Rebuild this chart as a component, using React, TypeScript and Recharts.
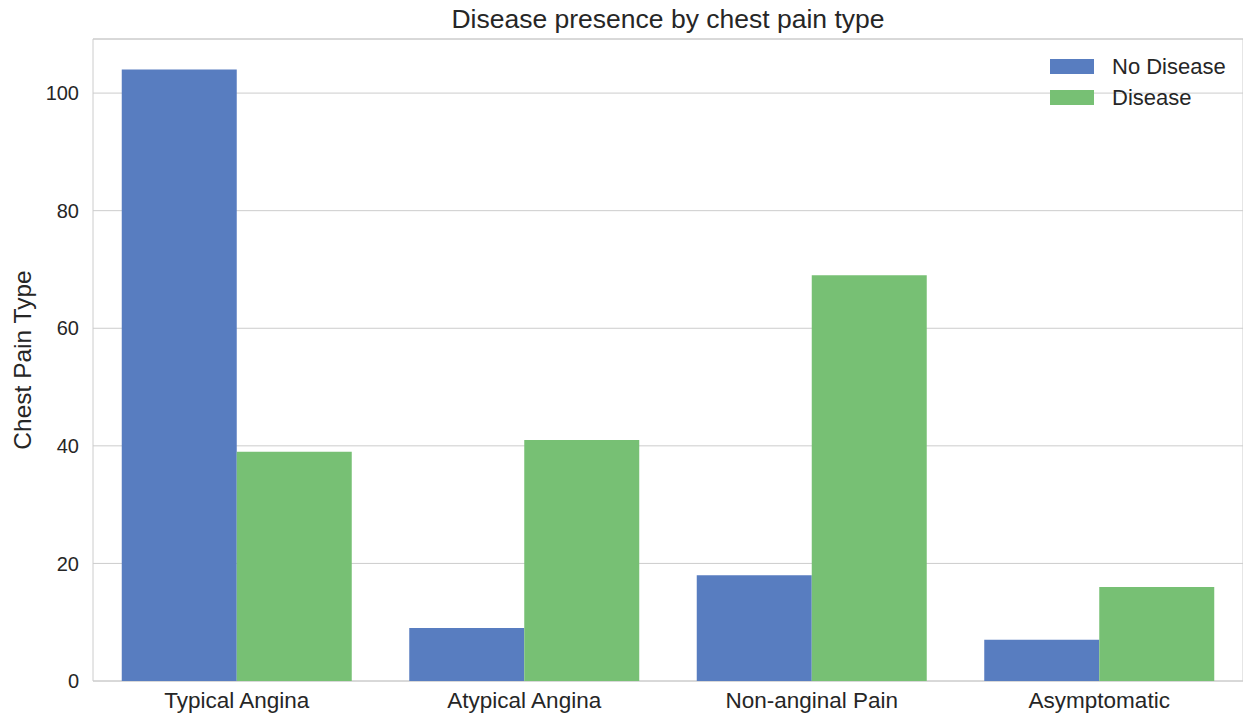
import { Bar, BarChart, CartesianGrid, ReferenceArea, XAxis, YAxis } from 'recharts';

const categories = ['Typical Angina', 'Atypical Angina', 'Non-anginal Pain', 'Asymptomatic'];
const noDisease = [104, 9, 18, 7];
const disease = [39, 41, 69, 16];
const yTicks = [0, 20, 40, 60, 80, 100];
const Y_MAX = 109.2;

const BLUE = '#587dc0';
const GREEN = '#77c074';
const TEXT = '#262626';
const FONT = '"Liberation Sans", Arial, sans-serif';

const data = categories.map((name, i) => ({ name, noDisease: noDisease[i], disease: disease[i] }));

const legendItems = [
  { label: 'No Disease', color: BLUE },
  { label: 'Disease', color: GREEN },
];

const LegendBox = () => (
  <div style={{ position: 'absolute', left: 1050, top: 51, fontFamily: FONT, fontSize: 22, color: TEXT }}>
    {legendItems.map((item) => (
      <div key={item.label} style={{ display: 'flex', alignItems: 'center', height: 31 }}>
        <span style={{ width: 44, height: 15, background: item.color, display: 'inline-block', marginRight: 18 }} />
        <span>{item.label}</span>
      </div>
    ))}
  </div>
);

export default function App() {
  return (
    <div style={{ position: 'absolute', left: 0, top: 0, width: 1243, height: 715, background: '#fff' }}>
      <BarChart
        width={1243}
        height={715}
        data={data}
        margin={{ top: 39, right: 0, left: 0, bottom: 0 }}
        barGap={0}
        barCategoryGap="10%"
      >
        <CartesianGrid vertical={false} stroke="#cccccc" />
        <ReferenceArea y1={0} y2={Y_MAX} fill="none" stroke="#cccccc" strokeWidth={1} />
        <XAxis
          dataKey="name"
          height={34}
          axisLine={false}
          tickLine={false}
          tickMargin={5}
          tick={{ fontFamily: FONT, fontSize: 22.5, fill: TEXT }}
        />
        <YAxis
          width={93}
          domain={[0, Y_MAX]}
          ticks={yTicks}
          axisLine={false}
          tickLine={false}
          tickMargin={8}
          tick={{ fontFamily: FONT, fontSize: 20, fill: TEXT }}
          label={{
            value: 'Chest Pain Type',
            angle: -90,
            position: 'insideLeft',
            offset: 22,
            style: { fontFamily: FONT, fontSize: 24.5, fill: TEXT, textAnchor: 'middle' },
          }}
        />
        <Bar dataKey="noDisease" name="No Disease" fill={BLUE} isAnimationActive={false} />
        <Bar dataKey="disease" name="Disease" fill={GREEN} isAnimationActive={false} />
      </BarChart>
      <div
        style={{
          position: 'absolute',
          left: 93,
          width: 1150,
          top: 4,
          textAlign: 'center',
          fontFamily: FONT,
          fontSize: 26.5,
          color: TEXT,
        }}
      >
        Disease presence by chest pain type
      </div>
      <LegendBox />
    </div>
  );
}
